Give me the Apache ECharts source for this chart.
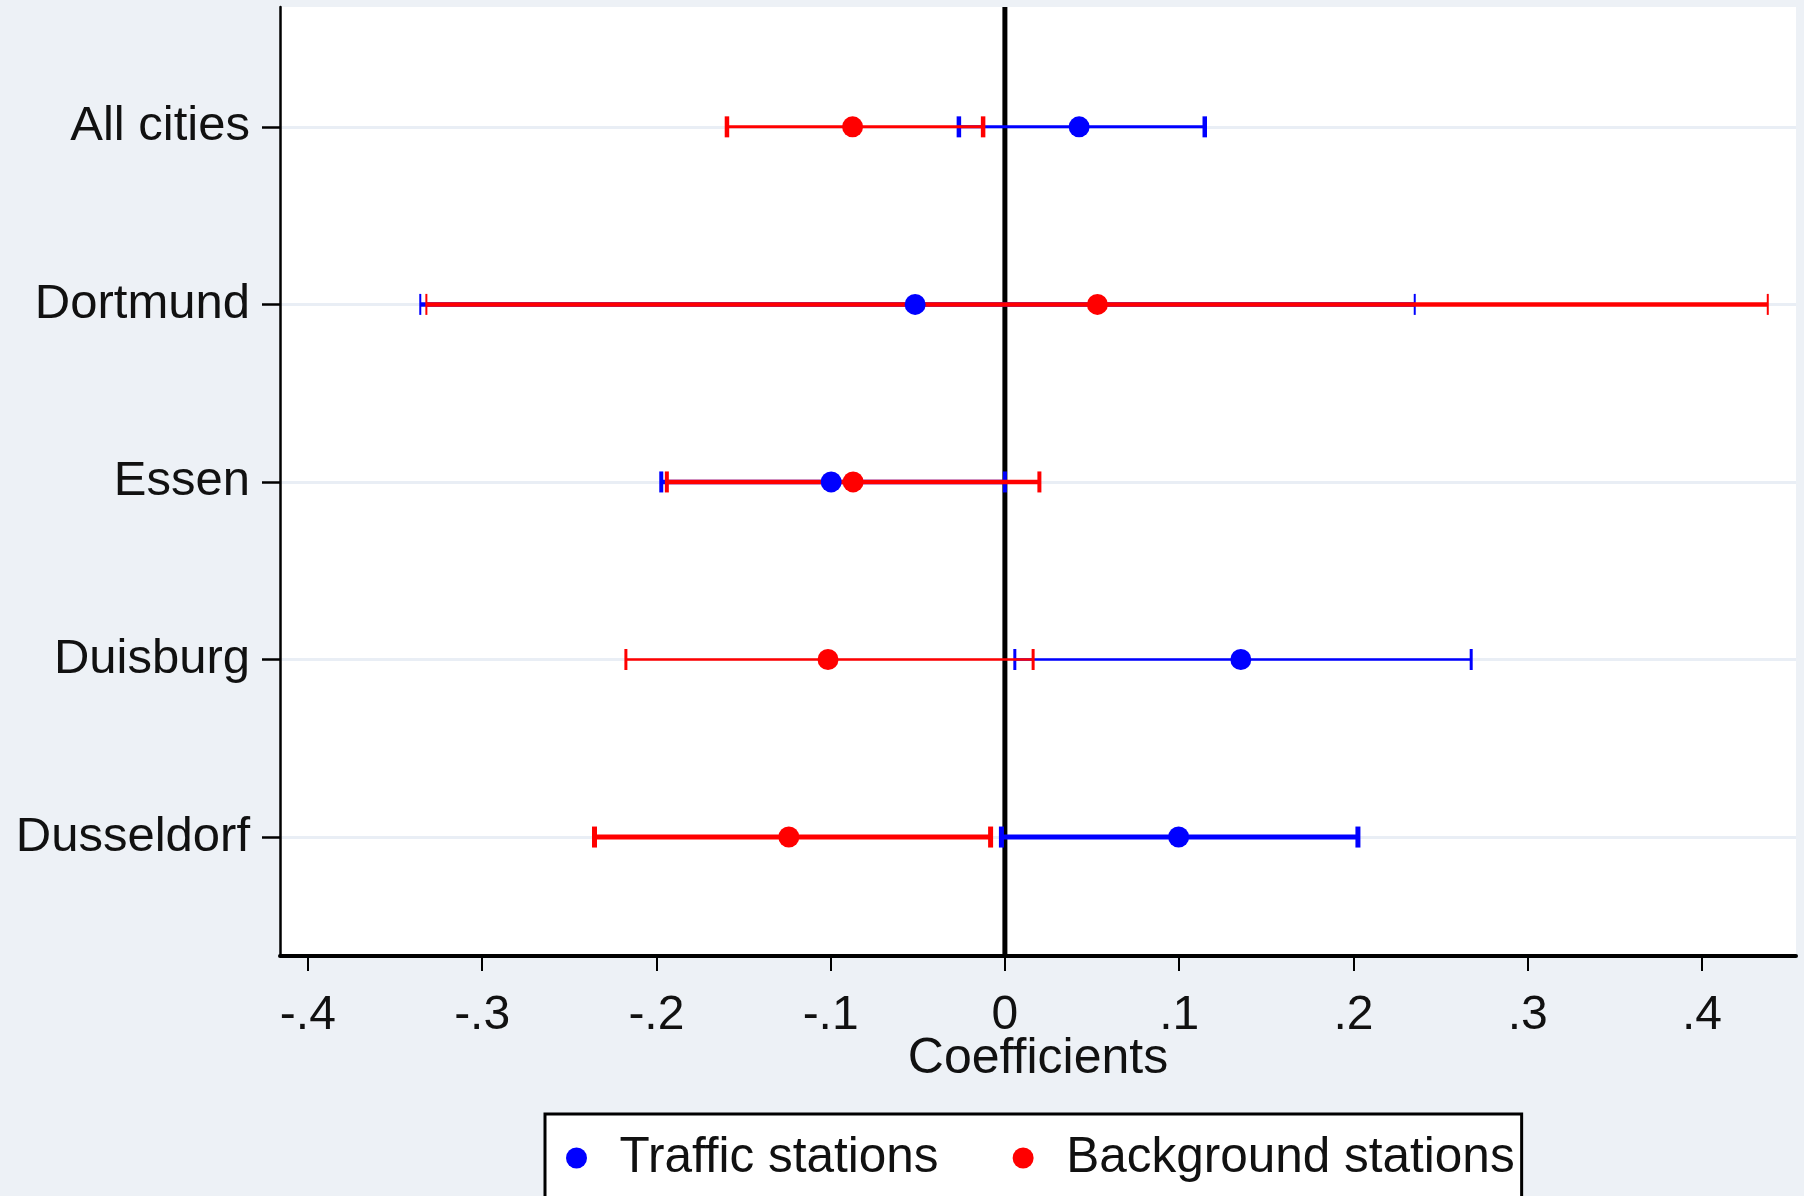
<!DOCTYPE html>
<html>
<head>
<meta charset="utf-8">
<title>Coefficients by city</title>
<script src="https://cdn.jsdelivr.net/npm/echarts@6/dist/echarts.min.js"></script>
<style>
  html, body { margin: 0; padding: 0; background: #edf1f6; }
  #chart { width: 1804px; height: 1196px; }
</style>
</head>
<body>
<div id="chart"></div>
<script>
// categories, top to bottom
const cities = ['All cities', 'Dortmund', 'Essen', 'Duisburg', 'Dusseldorf'];
const rowPos = [1, 2, 3, 4, 5];

// traffic stations: point estimate and confidence bounds
const trafficCoef = [0.0426, -0.0515, -0.0997, 0.1354, 0.0997];
const trafficLow = [-0.0264, -0.3355, -0.1972, 0.0057, -0.0020];
const trafficHigh = [0.1147, 0.2352, 0.0000, 0.2676, 0.2026];

// background stations
const backgroundCoef = [-0.0874, 0.0531, -0.0871, -0.1015, -0.1240];
const backgroundLow = [-0.1595, -0.3320, -0.1940, -0.2175, -0.2355];
const backgroundHigh = [-0.0125, 0.4378, 0.0198, 0.0162, -0.0082];

const xTicks = [-0.4, -0.3, -0.2, -0.1, 0, 0.1, 0.2, 0.3, 0.4];

// per-row stroke widths (the original draws some rows heavier)
const barWidths = [3, 4.5, 4.5, 2.5, 5];
const capWidths = [4.5, 2, 4, 3, 5];

const FONT = 'Liberation Sans';

function fmtTick(v) {
  if (Math.abs(v) < 1e-9) return '0';
  const s = Math.abs(v).toFixed(1).replace(/^0/, '');
  return (v < 0 ? '-' : '') + s;
}

function errorBar(color) {
  return function (params, api) {
    const i = params.dataIndex;
    const p1 = api.coord([api.value(0), api.value(2)]);
    const p2 = api.coord([api.value(1), api.value(2)]);
    const h = 10.5;
    return {
      type: 'group',
      children: [
        { type: 'line', shape: { x1: p1[0], y1: p1[1], x2: p2[0], y2: p2[1] },
          style: { stroke: color, lineWidth: barWidths[i] } },
        { type: 'line', shape: { x1: p1[0], y1: p1[1] - h, x2: p1[0], y2: p1[1] + h },
          style: { stroke: color, lineWidth: capWidths[i] } },
        { type: 'line', shape: { x1: p2[0], y1: p2[1] - h, x2: p2[0], y2: p2[1] + h },
          style: { stroke: color, lineWidth: capWidths[i] } }
      ]
    };
  };
}

const chart = echarts.init(document.getElementById('chart'));

chart.setOption({
  backgroundColor: '#edf1f6',
  animation: false,
  grid: {
    left: 280, right: 8, top: 7, bottom: 240,
    show: true, backgroundColor: '#ffffff', borderWidth: 0,
    containLabel: false
  },
  legend: {
    left: 545, top: 1114,
    orient: 'horizontal',
    data: [
      { name: 'Traffic stations', icon: 'circle' },
      { name: 'Background stations', icon: 'circle' }
    ],
    selectedMode: false,
    itemWidth: 21, itemHeight: 21, itemGap: 74,
    padding: [19, 7, 40, 21],
    backgroundColor: '#ffffff',
    borderColor: '#000000', borderWidth: 3, borderRadius: 0,
    formatter: function (name) { return '  ' + name; },
    textStyle: { fontFamily: FONT, fontSize: 49.5, color: '#111111' }
  },
  xAxis: {
    type: 'value',
    min: -0.416, max: 0.454,
    name: 'Coefficients',
    nameLocation: 'middle',
    nameGap: 78,
    nameMoveOverlap: false,
    nameTextStyle: { fontFamily: FONT, fontSize: 50, color: '#111111' },
    axisLine: { show: true, onZero: false, lineStyle: { color: '#000000', width: 4 } },
    axisTick: { show: true, length: 15, customValues: xTicks, lineStyle: { color: '#000000', width: 2 } },
    axisLabel: {
      customValues: xTicks, margin: 36,
      fontFamily: FONT, fontSize: 48, color: '#111111',
      formatter: fmtTick
    },
    splitLine: { show: false }
  },
  yAxis: {
    type: 'value',
    min: 0.325, max: 5.67,
    inverse: true,
    axisLine: { show: true, onZero: false, lineStyle: { color: '#000000', width: 2.5 } },
    axisTick: { show: true, length: 18, customValues: rowPos, lineStyle: { color: '#000000', width: 2.5 } },
    axisLabel: {
      customValues: rowPos, margin: 30,
      fontFamily: FONT, fontSize: 49, color: '#111111',
      formatter: function (v) { return cities[Math.round(v) - 1]; }
    },
    splitLine: { show: true, lineStyle: { color: '#e9eef5', width: 3 } }
  },
  series: [
    {
      name: 'zero',
      type: 'line',
      silent: true,
      symbol: 'none',
      z: 1,
      lineStyle: { color: '#000000', width: 5 },
      data: [[0, 0.325], [0, 5.67]]
    },
    {
      name: 'traffic-ci',
      type: 'custom',
      z: 2,
      renderItem: errorBar('#0000ff'),
      encode: { x: [0, 1], y: 2 },
      data: rowPos.map((p, i) => [trafficLow[i], trafficHigh[i], p])
    },
    {
      name: 'background-ci',
      type: 'custom',
      z: 3,
      renderItem: errorBar('#ff0000'),
      encode: { x: [0, 1], y: 2 },
      data: rowPos.map((p, i) => [backgroundLow[i], backgroundHigh[i], p])
    },
    {
      name: 'Traffic stations',
      type: 'scatter',
      z: 4,
      symbol: 'circle',
      symbolSize: 21,
      itemStyle: { color: '#0000ff', opacity: 1 },
      data: rowPos.map((p, i) => [trafficCoef[i], p])
    },
    {
      name: 'Background stations',
      type: 'scatter',
      z: 5,
      symbol: 'circle',
      symbolSize: 21,
      itemStyle: { color: '#ff0000', opacity: 1 },
      data: rowPos.map((p, i) => [backgroundCoef[i], p])
    }
  ]
});
</script>
</body>
</html>
